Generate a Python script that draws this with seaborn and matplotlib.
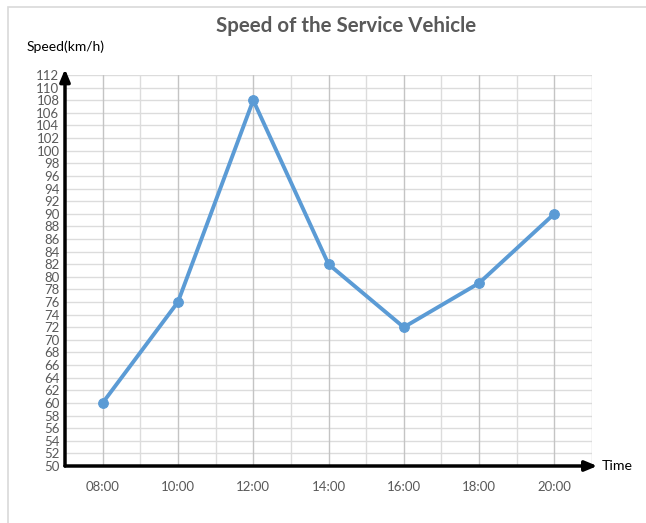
import matplotlib
matplotlib.use("Agg")
import matplotlib.pyplot as plt
import seaborn as sns
import pandas as pd
import numpy as np
from matplotlib.patches import Rectangle

times = ["08:00", "10:00", "12:00", "14:00", "16:00", "18:00", "20:00"]
speeds = [60, 76, 108, 82, 72, 79, 90]
y_ticks = list(range(50, 113, 2))

df = pd.DataFrame({"pos": np.arange(len(times)), "speed": speeds})

sns.set_theme(style="white")
plt.rcParams["font.family"] = ["Lato", "DejaVu Sans"]

fig = plt.figure(figsize=(6.46, 5.23), dpi=100)
ax = fig.add_axes([65 / 646, 1 - 466 / 523, (592 - 65) / 646, (466 - 75) / 523])

# chart frame (top and left edges visible)
fig.patches.append(Rectangle((8 / 646, -0.05), 1.2, 1 - 7 / 523 + 0.05,
                             transform=fig.transFigure, fill=False,
                             edgecolor="#d9d9d9", linewidth=1.2, zorder=0))

ax.set_xlim(-0.5, len(times) - 0.5)
ax.set_ylim(50, 112)

# grid: horizontal every 2 units, vertical every half category
for y in y_ticks[1:]:
    ax.axhline(y, color="#dcdcdc", linewidth=1.0, zorder=0)
for k in range(1, 2 * len(times)):
    xv = -0.5 + k * 0.5
    col = "#c4c4c4" if k % 2 == 1 else "#dcdcdc"
    ax.axvline(xv, color=col, linewidth=1.0, zorder=0)
ax.axvline(len(times) - 0.5, color="#d0d0d0", linewidth=1.0, zorder=0)

sns.lineplot(data=df, x="pos", y="speed", ax=ax, color="#5B9BD5",
             linewidth=2.8, marker="o", markersize=7,
             markeredgecolor="#5B9BD5", zorder=3)

for s in ax.spines.values():
    s.set_visible(False)

# axes drawn as arrows
ax.annotate("", xy=(0, 1.015), xytext=(0, 0), xycoords="axes fraction",
            arrowprops=dict(arrowstyle="-|>,head_length=0.6,head_width=0.25",
                            color="black", lw=2.5, shrinkA=0, shrinkB=0),
            annotation_clip=False)
ax.annotate("", xy=(1.01, 0), xytext=(0, 0), xycoords="axes fraction",
            arrowprops=dict(arrowstyle="-|>,head_length=0.6,head_width=0.25",
                            color="black", lw=2.5, shrinkA=0, shrinkB=0),
            annotation_clip=False)

ax.set_xticks(range(len(times)))
ax.set_xticklabels(times)
ax.set_yticks(y_ticks)
ax.set_yticklabels([str(v) for v in y_ticks])
ax.tick_params(axis="both", length=0, labelsize=9.5, labelcolor="#595959")
ax.tick_params(axis="x", pad=11)
ax.tick_params(axis="y", pad=4)
ax.set_xlabel("")
ax.set_ylabel("")

fig.text(346 / 646, 1 - 26 / 523, "Speed of the Service Vehicle", ha="center",
         va="center", fontsize=14.8, fontweight="bold", color="#595959")
fig.text(27 / 646, 1 - 47 / 523, "Speed(km/h)", ha="left", va="center",
         fontsize=10, color="black")
fig.text(602 / 646, 1 - 466 / 523, "Time", ha="left", va="center",
         fontsize=10.2, color="black")

fig.savefig("out.png", dpi=100)
